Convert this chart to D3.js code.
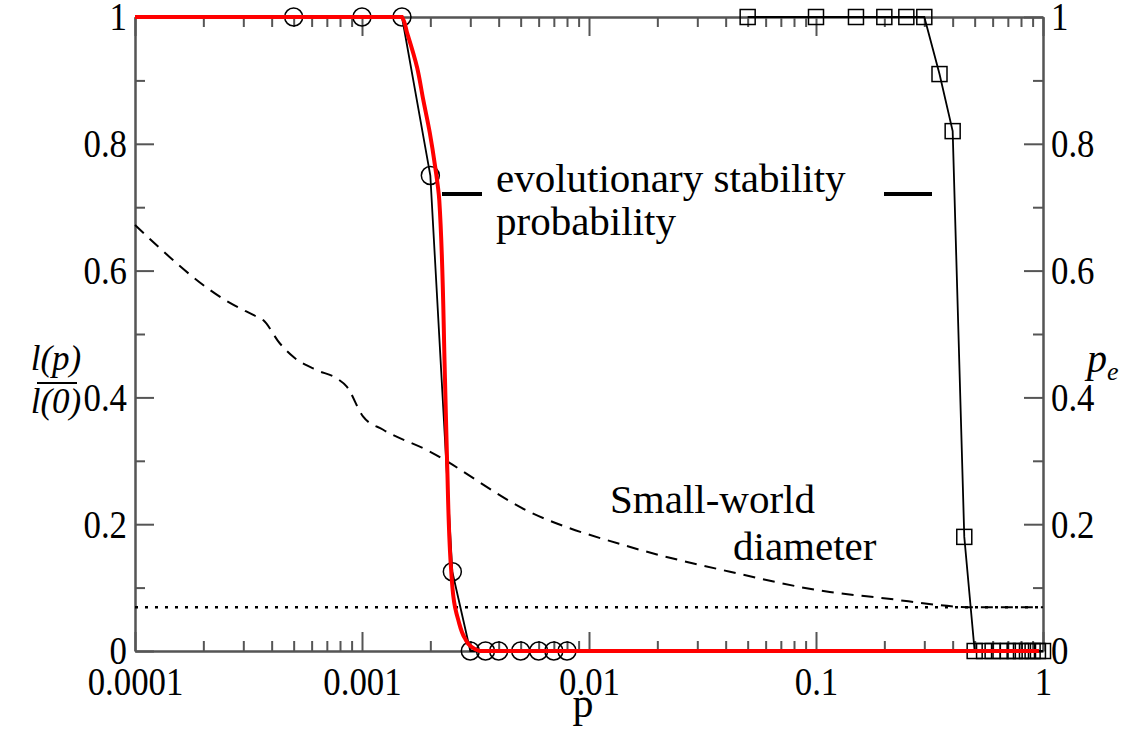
<!DOCTYPE html>
<html lang="en">
<head>
<meta charset="UTF-8">
<title>Evolutionary stability and small-world diameter</title>
<script src="https://d3js.org/d3.v7.min.js"></script>
<style>
  body { margin: 0; background: #fff; }
  svg { display: block; font-family: 'Liberation Serif', 'Times New Roman', serif; }
</style>
</head>
<body>
<script>
// circles joined by a thin black line (left axis)
const circleP = [0.0005, 0.001, 0.0015, 0.002, 0.0025, 0.003, 0.0035, 0.004, 0.005, 0.006, 0.007, 0.008];
const circleV = [1, 1, 1, 0.75, 0.125, 0, 0, 0, 0, 0, 0, 0];

// red smooth curve
const redP = [0.0001, 0.0015, 0.00158, 0.00175, 0.00186, 0.00199, 0.0021, 0.00219, 0.00232, 0.00237, 0.00247, 0.00257, 0.00265, 0.00284, 0.003, 0.0033, 0.96];
const redV = [1, 1, 0.975, 0.92, 0.87, 0.817, 0.764, 0.711, 0.43, 0.30, 0.128, 0.069, 0.05, 0.02, 0.008, 0, 0];

// squares, p_e (right axis)
const squareP = [0.05, 0.1, 0.15, 0.2, 0.25, 0.3, 0.35, 0.4, 0.45, 0.5, 0.55, 0.6, 0.65, 0.7, 0.75, 0.8, 0.85, 0.9, 0.95, 1];
const squareV = [1, 1, 1, 1, 1, 1, 0.91, 0.82, 0.18, 0, 0, 0, 0, 0, 0, 0, 0, 0, 0, 0];

// dashed small-world diameter
const diamP = [0.0001, 0.000262, 0.000332, 0.000367, 0.000435, 0.000498, 0.000631, 0.000774, 0.000857, 0.00101, 0.00124, 0.00193, 0.0055, 0.0152, 0.0418, 0.115, 0.191, 0.5, 1];
const diamV = [0.672, 0.549, 0.530, 0.522, 0.485, 0.464, 0.443, 0.430, 0.417, 0.370, 0.349, 0.317, 0.219, 0.164, 0.125, 0.093, 0.084, 0.069, 0.069];

// dotted reference level
const dottedP = [0.0001, 1];
const dottedV = [0.069, 0.069];

const xTicks = [0.0001, 0.001, 0.01, 0.1, 1];
const yTicks = [0, 0.2, 0.4, 0.6, 0.8, 1];
const yMinor = [0.1, 0.3, 0.5, 0.7, 0.9];

const width = 1132, height = 734;
const margin = { top: 17, right: 89, bottom: 83, left: 135 };
const w = width - margin.left - margin.right;
const h = height - margin.top - margin.bottom;
const axisColor = '#555';
const serif = "'Liberation Serif', 'Times New Roman', serif";

const svg = d3.select('body').append('svg')
    .attr('width', width)
    .attr('height', height);
const g = svg.append('g')
    .attr('transform', `translate(${margin.left},${margin.top})`);

const x = d3.scaleLog().domain([0.0001, 1]).range([0, w]);
const yL = d3.scaleLinear().domain([0, 1]).range([h, 0]);
const yR = d3.scaleLinear().domain([0, 1]).range([h, 0]);

const xMinor = x.ticks().filter(d => xTicks.indexOf(d) < 0);

function styleAxis(sel, withText) {
    sel.attr('color', axisColor).attr('font-family', serif).attr('font-size', 40);
    sel.select('.domain').attr('stroke-width', 2);
    sel.selectAll('.tick line').attr('stroke-width', 2);
    sel.selectAll('text').attr('fill', '#000');
    if (!withText) sel.selectAll('text').remove();
}

// minor ticks (all four sides)
g.append('g').attr('transform', `translate(0,${h})`)
    .call(d3.axisBottom(x).tickValues(xMinor).tickSizeInner(-10).tickSizeOuter(0).tickFormat(''))
    .call(s => styleAxis(s, false));
g.append('g')
    .call(d3.axisTop(x).tickValues(xMinor).tickSizeInner(-10).tickSizeOuter(0).tickFormat(''))
    .call(s => styleAxis(s, false));
g.append('g')
    .call(d3.axisLeft(yL).tickValues(yMinor).tickSizeInner(-10).tickSizeOuter(0).tickFormat(''))
    .call(s => styleAxis(s, false));
g.append('g').attr('transform', `translate(${w},0)`)
    .call(d3.axisRight(yR).tickValues(yMinor).tickSizeInner(-10).tickSizeOuter(0).tickFormat(''))
    .call(s => styleAxis(s, false));

// major ticks with labels
const xAxis = g.append('g').attr('transform', `translate(0,${h})`)
    .call(d3.axisBottom(x).tickValues(xTicks).tickSizeInner(-19).tickSizeOuter(0)
        .tickPadding(16).tickFormat(d => String(d)))
    .call(s => styleAxis(s, true));
xAxis.selectAll('text').attr('transform', 'scale(0.87,1)');

g.append('g')
    .call(d3.axisTop(x).tickValues(xTicks).tickSizeInner(-19).tickSizeOuter(0).tickFormat(''))
    .call(s => styleAxis(s, false));

const yAxisL = g.append('g')
    .call(d3.axisLeft(yL).tickValues(yTicks).tickSizeInner(-19).tickSizeOuter(0)
        .tickPadding(8).tickFormat(d => String(d)))
    .call(s => styleAxis(s, true));
yAxisL.selectAll('text').attr('transform', 'scale(0.87,1)').attr('x', -9.2);

const yAxisR = g.append('g').attr('transform', `translate(${w},0)`)
    .call(d3.axisRight(yR).tickValues(yTicks).tickSizeInner(-19).tickSizeOuter(0)
        .tickPadding(8).tickFormat(d => String(d)))
    .call(s => styleAxis(s, true));
yAxisR.selectAll('text').attr('transform', 'scale(0.87,1)').attr('x', 9.2);

// dotted reference line
const dotted = dottedP.map((p, i) => ({ p, v: dottedV[i] }));
g.append('path')
    .datum(dotted)
    .attr('fill', 'none')
    .attr('stroke', '#000')
    .attr('stroke-width', 2.5)
    .attr('stroke-dasharray', '3,7')
    .attr('d', d3.line().x(d => x(d.p)).y(d => yL(d.v)));

// dashed small-world diameter
const diam = diamP.map((p, i) => ({ p, v: diamV[i] }));
g.append('path')
    .datum(diam)
    .attr('fill', 'none')
    .attr('stroke', '#000')
    .attr('stroke-width', 2)
    .attr('stroke-dasharray', '12,8')
    .attr('d', d3.line().curve(d3.curveMonotoneX).x(d => x(d.p)).y(d => yL(d.v)));

// circle series
const circ = circleP.map((p, i) => ({ p, v: circleV[i] }));
g.append('path')
    .datum(circ)
    .attr('fill', 'none')
    .attr('stroke', '#000')
    .attr('stroke-width', 1.8)
    .attr('d', d3.line().x(d => x(d.p)).y(d => yL(d.v)));
g.selectAll('.circ')
    .data(circ)
    .join('circle')
    .attr('class', 'circ')
    .attr('cx', d => x(d.p))
    .attr('cy', d => yL(d.v))
    .attr('r', 9)
    .attr('fill', 'none')
    .attr('stroke', '#000')
    .attr('stroke-width', 1.5);

// square series (right axis)
const sq = squareP.map((p, i) => ({ p, v: squareV[i] }));
g.append('path')
    .datum(sq)
    .attr('fill', 'none')
    .attr('stroke', '#000')
    .attr('stroke-width', 1.8)
    .attr('d', d3.line().x(d => x(d.p)).y(d => yR(d.v)));
g.selectAll('.sq')
    .data(sq)
    .join('rect')
    .attr('class', 'sq')
    .attr('x', d => x(d.p) - 7.5)
    .attr('y', d => yR(d.v) - 7.5)
    .attr('width', 15)
    .attr('height', 15)
    .attr('fill', 'none')
    .attr('stroke', '#000')
    .attr('stroke-width', 1.5);

// red curve on top
const red = redP.map((p, i) => ({ p, v: redV[i] }));
g.append('path')
    .datum(red)
    .attr('fill', 'none')
    .attr('stroke', '#f00')
    .attr('stroke-width', 4)
    .attr('d', d3.line().curve(d3.curveMonotoneY).x(d => x(d.p)).y(d => yL(d.v)));

// legend / annotations
const ann = svg.append('g').style('font-size', '41px').attr('fill', '#000');
ann.append('line').attr('x1', 442).attr('x2', 482).attr('y1', 194).attr('y2', 194)
    .attr('stroke', '#000').attr('stroke-width', 4);
ann.append('line').attr('x1', 884).attr('x2', 932).attr('y1', 194).attr('y2', 194)
    .attr('stroke', '#000').attr('stroke-width', 4);
ann.append('text').attr('x', 496).attr('y', 192).text('evolutionary stability');
ann.append('text').attr('x', 496).attr('y', 235).text('probability');
ann.append('text').attr('x', 610).attr('y', 513).text('Small-world');
ann.append('text').attr('x', 733).attr('y', 560).text('diameter');

// axis titles
svg.append('text').attr('x', 583).attr('y', 717)
    .attr('text-anchor', 'middle').style('font-size', '42px').text('p');

const yt = svg.append('g').style('font-size', '35px').style('font-style', 'italic');
yt.append('text').attr('x', 56).attr('y', 370).attr('text-anchor', 'middle').text('l(p)');
yt.append('line').attr('x1', 37).attr('x2', 77).attr('y1', 383).attr('y2', 383)
    .attr('stroke', '#000').attr('stroke-width', 2);
yt.append('text').attr('x', 56).attr('y', 413).attr('text-anchor', 'middle').text('l(0)');

const pe = svg.append('text').attr('x', 1087).attr('y', 372)
    .style('font-size', '40px').style('font-style', 'italic');
pe.append('tspan').text('p');
pe.append('tspan').attr('dy', 8).style('font-size', '26px').text('e');
</script>
</body>
</html>
